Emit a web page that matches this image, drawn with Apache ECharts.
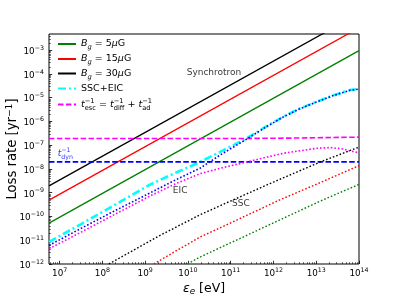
<!DOCTYPE html>
<html><head><meta charset="utf-8">
<script src="https://cdn.jsdelivr.net/npm/echarts@6/dist/echarts.min.js"></script>
<style>html,body{margin:0;padding:0;background:#fff}#c{width:399px;height:298px}</style>
</head><body><div id="c"></div>
<script>
// axis ranges in log10 units
const X_MIN = 6.75, X_MAX = 14, Y_MIN = -12, Y_MAX = -2.32;
const xMajor = [7, 8, 9, 10, 11, 12, 13, 14];
const yMajor = [-12, -11, -10, -9, -8, -7, -6, -5, -4, -3];

// synchrotron loss rates (log10 yr^-1) vs log10 E
const syncE = [6.75, 14];
const sync5 = [-10.28, -3.02];
const sync15 = [-9.31, -2.06];
const sync30 = [-8.71, -1.46];

// SSC+EIC (cyan dash-dot)
const sumE = [6.75, 7.5, 8.3, 9.1, 9.7, 10.28, 10.8, 11.37, 11.8, 12.23, 12.6, 13.01, 13.4, 13.79, 14];
const sumV = [-11.07, -10.32, -9.5, -8.67, -8.17, -7.71, -7.24, -6.71, -6.25, -5.80, -5.47, -5.17, -4.9, -4.68, -4.63];
// blue dotted
const bdotE = [6.75, 7.5, 8.3, 9.1, 9.7, 10.28, 10.8, 11.37, 11.8, 12.23, 12.6, 13.01, 13.4, 13.79, 14];
const bdotV = [-11.22, -10.5, -9.75, -9.02, -8.47, -7.97, -7.36, -6.75, -6.26, -5.81, -5.48, -5.18, -4.91, -4.69, -4.64];
// EIC (magenta dotted)
const eicE = [6.75, 7.5, 8.3, 9.1, 9.7, 10.28, 10.8, 11.37, 11.8, 12.23, 12.6, 13.01, 13.32, 13.6, 13.79, 14];
const eicV = [-11.36, -10.66, -9.9, -9.15, -8.63, -8.2, -7.95, -7.71, -7.52, -7.34, -7.24, -7.13, -7.10, -7.15, -7.24, -7.32];
// SSC dotted per field
const ssc30E = [8.15, 8.7, 9.3, 10.28, 11.06, 12.0, 13.09, 14];
const ssc30V = [-12, -11.45, -10.84, -9.93, -9.30, -8.55, -7.71, -7.08];
const ssc15E = [9.2, 9.7, 10.28, 11.2, 12.15, 13.1, 14];
const ssc15V = [-12, -11.47, -10.87, -10.1, -9.30, -8.57, -7.86];
const ssc5E = [9.99, 10.28, 11.2, 12.2, 13.16, 14];
const ssc5V = [-12, -11.71, -10.94, -10.10, -9.30, -8.65];
// timescales
const escE = [6.75, 11, 12.5, 14];
const escV = [-6.72, -6.72, -6.70, -6.66];
const dynE = [6.75, 14];
const dynV = [-7.7, -7.7];

// text annotations (log10 E, log10 rate)
const notes = [
  {name: 'Synchrotron', value: [9.97, -3.96]},
  {name: 'EIC', value: [9.645, -8.92]},
  {name: 'SSC', value: [11.03, -9.47]},
  {name: 'dyn', value: [6.953, -7.37]}
];

const FONT = 'DejaVu Sans';
const pairs = (xs, ys) => xs.map((x, i) => [x, ys[i]]);

function minorTicks(lo, hi) {
  const out = [];
  for (let n = Math.floor(lo) - 1; n <= Math.ceil(hi); n++) {
    for (let k = 2; k <= 9; k++) {
      const v = n + Math.log10(k);
      if (v >= lo && v <= hi) out.push(v);
    }
  }
  return out;
}
const sup = v => String(v).replace('-', '\u2212');
const tickRich = {
  b: {fontFamily: FONT, fontSize: 8.8, lineHeight: 10, padding: [3, 0, 0, 0], color: '#000'},
  s: {fontFamily: FONT, fontSize: 6.3, lineHeight: 6, verticalAlign: 'top', color: '#000'}
};
const tickFmt = v => '{b|10}{s|' + sup(Math.round(v)) + '}';

function lineSeries(name, data, color, width, type, z) {
  return {
    name, type: 'line', data, symbol: 'none', smooth: false, z: z || 2,
    lineStyle: {color, width, type}, itemStyle: {color}, silent: true
  };
}

const DOT = [1.6, 2.0];
const DASH = [5.5, 2.4];
const DASHDOT = [8, 3, 2, 3];

const legendNames = ['g5', 'g15', 'g30', 'sum', 'esc'];
const legendText = {
  g5: '{it|B}{subi|g}{n| = 5}{it|\u03bc}{n|G}',
  g15: '{it|B}{subi|g}{n| = 15}{it|\u03bc}{n|G}',
  g30: '{it|B}{subi|g}{n| = 30}{it|\u03bc}{n|G}',
  sum: '{n|SSC+EIC}',
  esc: '{it|t}{supz|\u22121}{sub|esc}{n| = }{it|t}{supz|\u22121}{sub|diff}{n| + }{it|t}{subz|ad}{sup|\u22121}'
};
const legRich = {
  n: {fontFamily: FONT, fontSize: 9.5, lineHeight: 14, color: '#000'},
  it: {fontFamily: FONT, fontSize: 9.5, lineHeight: 14, fontStyle: 'italic', color: '#000'},
  subi: {fontFamily: FONT, fontSize: 6.7, lineHeight: 6, verticalAlign: 'bottom', fontStyle: 'italic', color: '#000'},
  sub: {fontFamily: FONT, fontSize: 6.7, lineHeight: 6, verticalAlign: 'bottom', color: '#000'},
  subz: {fontFamily: FONT, fontSize: 6.7, lineHeight: 6, verticalAlign: 'bottom', width: 0.01, color: '#000'},
  sup: {fontFamily: FONT, fontSize: 6.7, lineHeight: 7, verticalAlign: 'top', color: '#000'},
  supz: {fontFamily: FONT, fontSize: 6.7, lineHeight: 7, verticalAlign: 'top', width: 0.01, color: '#000'}
};
const rowY = [46, 61, 75.5, 90.5, 104.5];
const legends = legendNames.map((nm, i) => ({
  data: [nm], orient: 'vertical', left: 57, top: rowY[i] - 7, padding: 0,
  itemWidth: 18, itemHeight: 10, selectedMode: false,
  itemStyle: {opacity: 0},
  formatter: n => legendText[n],
  textStyle: {fontFamily: FONT, fontSize: 9.5, rich: legRich}
}));

const chart = echarts.init(document.getElementById('c'), null, {renderer: 'canvas'});
chart.setOption({
  animation: false,
  backgroundColor: '#fff',
  grid: {left: 49, right: 40, top: 34, bottom: 34, containLabel: false, outerBoundsMode: 'none',
    show: true, borderColor: '#000', borderWidth: 1, backgroundColor: 'transparent'},
  legend: legends,
  xAxis: [
    {
      type: 'value', min: X_MIN, max: X_MAX, position: 'bottom',
      axisLine: {show: false}, splitLine: {show: false},
      axisTick: {show: true, inside: true, length: 3.2, lineStyle: {color: '#000', width: 0.8}, customValues: xMajor},
      axisLabel: {show: true, margin: 3, customValues: xMajor, formatter: tickFmt, rich: tickRich},
      name: '{it|\u03b5}{sub|e}{n| [eV]}', nameLocation: 'middle', nameGap: 17, nameMoveOverlap: false,
      nameTextStyle: {rich: {
        n: {fontFamily: FONT, fontSize: 12.5, lineHeight: 15, color: '#000'},
        it: {fontFamily: FONT, fontSize: 12.5, lineHeight: 15, fontStyle: 'italic', color: '#000'},
        sub: {fontFamily: FONT, fontSize: 8.8, lineHeight: 8, verticalAlign: 'bottom', fontStyle: 'italic', color: '#000'}
      }}
    },
    {
      type: 'value', min: X_MIN, max: X_MAX, position: 'bottom',
      axisLine: {show: false}, splitLine: {show: false}, axisLabel: {show: false},
      axisTick: {show: true, inside: true, length: 1.8, lineStyle: {color: '#000', width: 0.6}, customValues: minorTicks(X_MIN, X_MAX)}
    }
  ],
  yAxis: [
    {
      type: 'value', min: Y_MIN, max: Y_MAX, position: 'left',
      axisLine: {show: false}, splitLine: {show: false},
      axisTick: {show: true, inside: true, length: 3.2, lineStyle: {color: '#000', width: 0.8}, customValues: yMajor},
      axisLabel: {show: true, margin: 5, customValues: yMajor, formatter: tickFmt, rich: tickRich},
      name: '{n|Loss rate [yr}{s|\u22121}{n|]}', nameLocation: 'middle', nameGap: 28, nameRotate: 90, nameMoveOverlap: false,
      nameTextStyle: {rich: {
        n: {fontFamily: FONT, fontSize: 13.2, lineHeight: 16, color: '#000'},
        s: {fontFamily: FONT, fontSize: 9.2, lineHeight: 8, verticalAlign: 'top', color: '#000'}
      }}
    },
    {
      type: 'value', min: Y_MIN, max: Y_MAX, position: 'left',
      axisLine: {show: false}, splitLine: {show: false}, axisLabel: {show: false},
      axisTick: {show: true, inside: true, length: 1.8, lineStyle: {color: '#000', width: 0.6}, customValues: minorTicks(Y_MIN, Y_MAX)}
    }
  ],
  series: [
    lineSeries('g5', pairs(syncE, sync5), '#008000', 1.3, 'solid'),
    lineSeries('g15', pairs(syncE, sync15), '#ff0000', 1.3, 'solid'),
    lineSeries('g30', pairs(syncE, sync30), '#000000', 1.3, 'solid'),
    lineSeries('sum', pairs(sumE, sumV), '#00ffff', 2.6, DASHDOT),
    lineSeries('esc', pairs(escE, escV), '#ff00ff', 1.6, DASH),
    lineSeries('dyn', pairs(dynE, dynV), '#0000ff', 1.8, DASH),
    lineSeries('bdot', pairs(bdotE, bdotV), '#0000ff', 1.6, DOT, 3),
    lineSeries('eic', pairs(eicE, eicV), '#ff00ff', 1.6, DOT, 3),
    lineSeries('ssc30', pairs(ssc30E, ssc30V), '#000000', 1.4, DOT, 3),
    lineSeries('ssc15', pairs(ssc15E, ssc15V), '#ff0000', 1.4, DOT, 3),
    lineSeries('ssc5', pairs(ssc5E, ssc5V), '#008000', 1.4, DOT, 3),
    {
      name: 'notes', type: 'scatter', symbolSize: 0, silent: true, z: 5, data: notes,
      label: {
        show: true, position: 'right', distance: 0,
        formatter: p => p.name === 'dyn' ? '{it|t}{supz|\u22121}{sub|dyn}' : '{n|' + p.name + '}',
        rich: {
          n: {fontFamily: FONT, fontSize: 9, color: '#000'},
          it: {fontFamily: FONT, fontSize: 9, lineHeight: 13, fontStyle: 'italic', color: '#0000ff'},
          supz: {fontFamily: FONT, fontSize: 6.3, lineHeight: 6, verticalAlign: 'top', width: 0.01, color: '#0000ff'},
          sub: {fontFamily: FONT, fontSize: 6.3, lineHeight: 6, verticalAlign: 'bottom', color: '#0000ff'}
        }
      }
    }
  ]
});
</script></body></html>
